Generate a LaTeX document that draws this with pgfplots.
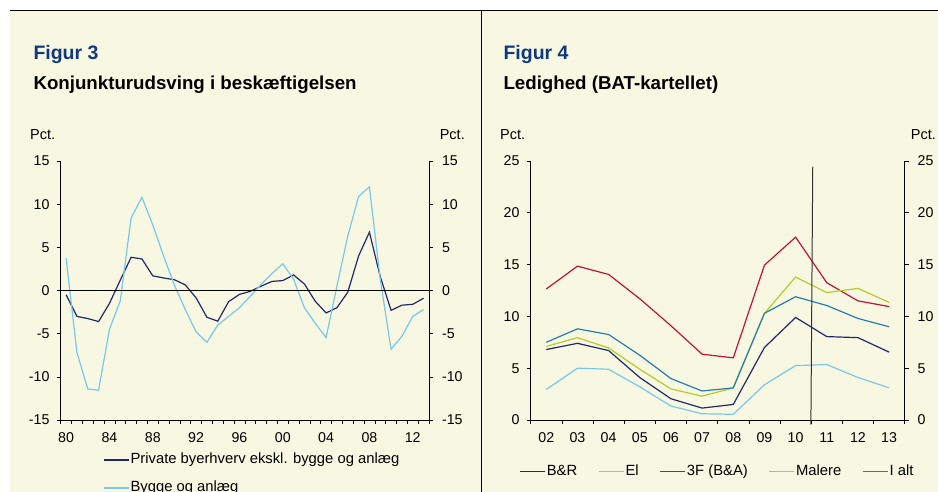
\documentclass[border=0pt]{standalone}
\usepackage{pgfplots}
\pgfplotsset{compat=1.18}
\usepackage{fontspec}
\setmainfont{Liberation Sans}
\definecolor{bgc}{RGB}{248,247,226}
\definecolor{navy}{RGB}{31,42,107}
\definecolor{lblue}{RGB}{120,200,235}
\definecolor{red3f}{RGB}{192,20,60}
\definecolor{malere}{RGB}{180,204,40}
\definecolor{ialt}{RGB}{40,125,175}
\definecolor{figblue}{RGB}{16,56,125}
\pgfplotsset{
  common/.style={
    scale only axis, anchor=south west,
    tick align=outside, major tick length=4pt, minor tick length=4pt,
    every tick/.style={black, line width=0.6pt},
    axis line style={line width=0.8pt},
    tick label style={font=\fontsize{14.2}{16}\selectfont},
    xticklabel style={yshift=-5pt},
    legend style={draw=none, fill=none, inner sep=0pt,
      font=\fontsize{14.8}{17}\selectfont,
      nodes={inner sep=1pt, text height=10pt, text depth=3pt}},
    legend cell align=left,
    legend image code/.code={\draw[##1, line width=1.3pt] (0pt,0pt) -- (25pt,0pt);},
  },
  leftlab/.style={yticklabel style={xshift=-3.7pt}},
  rightlab/.style={yticklabel style={xshift=5.5pt}},
}
\begin{document}
\begin{tikzpicture}[x=1pt,y=1pt]
\fill[white] (0,0) rectangle (938,492);
\useasboundingbox (0,0) rectangle (938,492);
\fill[bgc] (10,0) rectangle (938,481);
\draw[black, line width=1pt] (10,481) -- (938,481);
\draw[black, line width=1pt] (481,481) -- (481,0);

% titles
\node[anchor=base west, inner sep=0, font=\fontsize{19.5}{22}\selectfont\bfseries, text=figblue] at (33.3,432) {Figur 3};
\node[anchor=base west, inner sep=0, font=\fontsize{18.7}{20}\selectfont\bfseries] at (33.3,402.7) {Konjunkturudsving i beskæftigelsen};
\node[anchor=base west, inner sep=0, font=\fontsize{14.5}{16}\selectfont] at (30,352) {Pct.};
\node[anchor=base east, inner sep=0, font=\fontsize{14.5}{16}\selectfont] at (465,352) {Pct.};

\node[anchor=base west, inner sep=0, font=\fontsize{19.5}{22}\selectfont\bfseries, text=figblue] at (503.3,432) {Figur 4};
\node[anchor=base west, inner sep=0, font=\fontsize{18.7}{20}\selectfont\bfseries] at (503.3,402.7) {Ledighed (BAT-kartellet)};
\node[anchor=base west, inner sep=0, font=\fontsize{14.5}{16}\selectfont] at (500,352) {Pct.};
\node[anchor=base east, inner sep=0, font=\fontsize{14.5}{16}\selectfont] at (936,352) {Pct.};

% ---------- left chart ----------
\begin{axis}[common, leftlab, at={(60.7pt,72pt)}, width=368.3pt, height=259pt,
  xmin=1979.5, xmax=2013.5, ymin=-15, ymax=15,
  axis x line*=bottom, axis y line*=left,
  xtick={1980,1984,...,2012}, xticklabels={80,84,88,92,96,00,04,08,12},
  major x tick style={draw=none},
  minor xtick={1979.5,1980.5,...,2013.5},
  ytick={-15,-10,...,15}, yticklabels={-15,-10,-5,0,5,10,15},
  legend style={at={(axis description cs:0.115,-0.208)}, anchor=west, row sep=13pt},
]
\addplot[navy, line width=1.2pt] coordinates {
(1980,-0.5)(1981,-3.0)(1982,-3.25)(1983,-3.6)(1984,-1.5)(1985,1.2)(1986,3.85)(1987,3.65)
(1988,1.7)(1989,1.45)(1990,1.25)(1991,0.65)(1992,-0.85)(1993,-3.1)(1994,-3.55)(1995,-1.3)
(1996,-0.45)(1997,-0.1)(1998,0.5)(1999,1.05)(2000,1.15)(2001,1.8)(2002,0.75)(2003,-1.25)
(2004,-2.6)(2005,-2.0)(2006,-0.2)(2007,4.0)(2008,6.75)(2009,1.6)(2010,-2.3)(2011,-1.7)
(2012,-1.6)(2013,-0.9)};
\addlegendentry{Private byerhverv ekskl. bygge og anlæg}
\addplot[lblue, line width=1.2pt] coordinates {
(1980,3.75)(1981,-7.2)(1982,-11.4)(1983,-11.55)(1984,-4.5)(1985,-1.2)(1986,8.4)(1987,10.8)
(1988,7.6)(1989,4.0)(1990,0.6)(1991,-2.2)(1992,-4.8)(1993,-6.0)(1994,-4.0)(1995,-3.0)
(1996,-2.0)(1997,-0.65)(1998,0.7)(1999,1.95)(2000,3.1)(2001,1.3)(2002,-2.0)(2003,-3.8)
(2004,-5.45)(2005,0.5)(2006,6.3)(2007,10.9)(2008,12.0)(2009,1.3)(2010,-6.8)(2011,-5.3)
(2012,-3.0)(2013,-2.2)};
\addlegendentry{Bygge og anlæg}
\addplot[black, line width=0.8pt, forget plot] coordinates {(1979.5,0)(2013.5,0)};
\end{axis}
\begin{axis}[common, rightlab, at={(60.7pt,72pt)}, width=368.3pt, height=259pt,
  xmin=1979.5, xmax=2013.5, ymin=-15, ymax=15,
  axis x line=none, axis y line*=right,
  ytick={-15,-10,...,15}, yticklabels={-15,-10,-5,0,5,10,15},
]
\addplot[draw=none, forget plot] coordinates {(1980,0)};
\end{axis}

% ---------- right chart ----------
\begin{axis}[common, leftlab, at={(530.7pt,72pt)}, width=374pt, height=259pt,
  xmin=1.5, xmax=13.5, ymin=0, ymax=25, clip=false,
  axis x line*=bottom, axis y line*=left,
  xtick={2,...,13}, xticklabels={02,03,04,05,06,07,08,09,10,11,12,13},
  major x tick style={draw=none},
  minor xtick={1.5,2.5,...,13.5},
  ytick={0,5,...,25},
  yticklabels={0,5,10,15,20,25},
  legend columns=5,
  legend style={at={(axis description cs:-0.0305,-0.1996)}, anchor=west,
    /tikz/every even column/.append style={column sep=20pt}},
]
\addplot[navy, line width=1.2pt] coordinates {
(2,6.8)(3,7.4)(4,6.7)(5,4.1)(6,2.05)(7,1.15)(8,1.5)(9,7.0)(10,9.9)(11,8.05)(12,7.95)(13,6.55)};
\addlegendentry{B\&R}
\addplot[lblue, line width=1.2pt] coordinates {
(2,2.95)(3,5.0)(4,4.9)(5,3.2)(6,1.35)(7,0.6)(8,0.55)(9,3.4)(10,5.25)(11,5.35)(12,4.1)(13,3.1)};
\addlegendentry{El}
\addplot[red3f, line width=1.2pt] coordinates {
(2,12.65)(3,14.85)(4,14.05)(5,11.7)(6,9.1)(7,6.35)(8,6.0)(9,14.95)(10,17.65)(11,13.25)(12,11.5)(13,10.95)};
\addlegendentry{3F (B\&A)}
\addplot[malere, line width=1.2pt] coordinates {
(2,7.1)(3,7.95)(4,6.95)(5,4.9)(6,3.0)(7,2.3)(8,3.1)(9,10.3)(10,13.8)(11,12.3)(12,12.7)(13,11.35)};
\addlegendentry{Malere}
\addplot[ialt, line width=1.2pt] coordinates {
(2,7.5)(3,8.8)(4,8.25)(5,6.25)(6,4.0)(7,2.8)(8,3.1)(9,10.3)(10,11.9)(11,11.05)(12,9.8)(13,9.0)};
\addlegendentry{I alt}
\addplot[black!80, line width=1pt, forget plot] coordinates {(10.49,-0.45)(10.55,24.45)};
\end{axis}
\begin{axis}[common, rightlab, at={(530.7pt,72pt)}, width=374pt, height=259pt,
  xmin=1.5, xmax=13.5, ymin=0, ymax=25,
  axis x line=none, axis y line*=right,
  ytick={0,5,...,25}, yticklabels={0,5,10,15,20,25},
]
\addplot[draw=none, forget plot] coordinates {(2,0)};
\end{axis}
\end{tikzpicture}
\end{document}
